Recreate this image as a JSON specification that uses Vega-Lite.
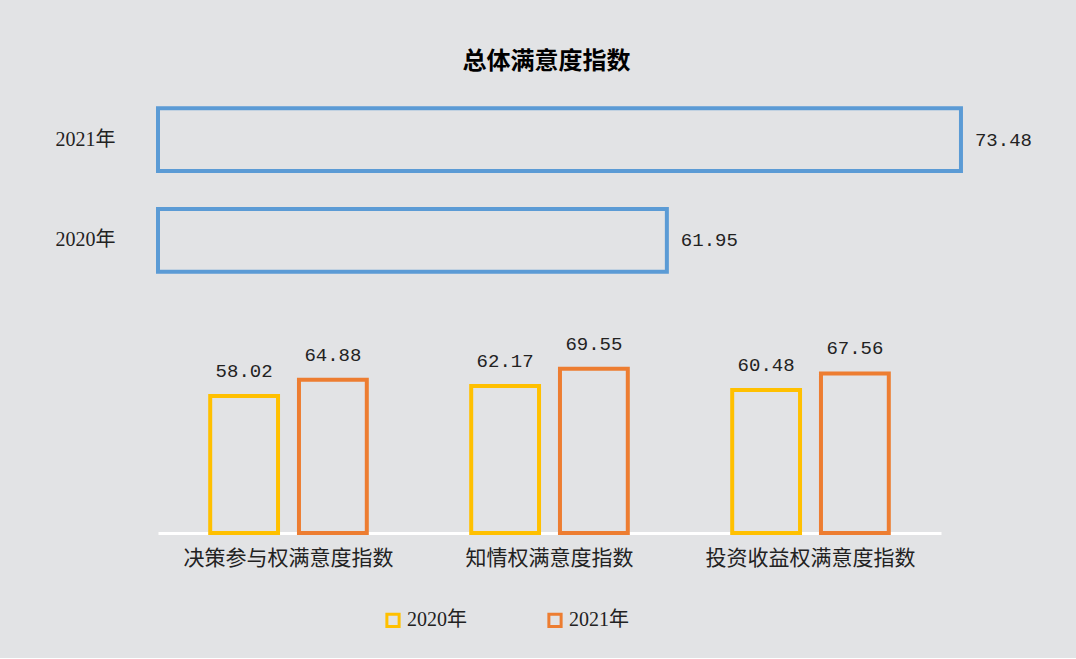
{
  "$schema": "https://vega.github.io/schema/vega-lite/v6.json",
  "background": "#e2e3e5",
  "padding": {"left": 55, "top": 50, "right": 38, "bottom": 25},
  "title": {"text": "总体满意度指数", "fontSize": 24, "font": "Noto Sans CJK SC", "fontWeight": "bold", "color": "#000000", "anchor": "middle", "offset": 16},
  "datasets": {
    "overall": [
      {"年份": "2021年", "指数": 73.48},
      {"年份": "2020年", "指数": 61.95}
    ],
    "sub": [
      {"指标": "决策参与权满意度指数", "年份": "2020年", "指数": 58.02},
      {"指标": "决策参与权满意度指数", "年份": "2021年", "指数": 64.88},
      {"指标": "知情权满意度指数", "年份": "2020年", "指数": 62.17},
      {"指标": "知情权满意度指数", "年份": "2021年", "指数": 69.55},
      {"指标": "投资收益权满意度指数", "年份": "2020年", "指数": 60.48},
      {"指标": "投资收益权满意度指数", "年份": "2021年", "指数": 67.56}
    ]
  },
  "spacing": 44,
  "vconcat": [
    {
      "width": 880,
      "height": 200,
      "data": {"name": "overall"},
      "encoding": {
        "y": {"field": "年份", "type": "nominal", "sort": ["2021年", "2020年"],
              "scale": {"paddingInner": 0.376, "paddingOuter": 0.18},
              "axis": {"title": null, "ticks": false, "domain": false, "labelFontSize": 20, "labelPadding": 43, "labelFont": "Liberation Serif, Noto Sans CJK SC", "labelColor": "#222222"}},
        "x": {"field": "指数", "type": "quantitative", "scale": {"domain": [42, 76.5], "zero": false, "nice": false}, "axis": null}
      },
      "layer": [
        {"mark": {"type": "bar", "fill": "transparent", "stroke": "#5B9BD5", "strokeWidth": 4},
         "encoding": {"x2": {"datum": 42}}},
        {"mark": {"type": "text", "align": "left", "dx": 14, "font": "Liberation Mono", "fontSize": 19, "color": "#222222"},
         "encoding": {"text": {"field": "指数", "type": "quantitative", "format": ".2f"}}}
      ]
    },
    {
      "width": 783,
      "height": 189,
      "data": {"name": "sub"},
      "encoding": {
        "x": {"field": "指标", "type": "nominal", "sort": ["决策参与权满意度指数", "知情权满意度指数", "投资收益权满意度指数"],
              "scale": {"paddingInner": 0.4, "paddingOuter": 0.2},
              "axis": {"title": null, "labelAngle": 0, "labelFontSize": 21, "labelFont": "Noto Sans CJK SC", "labelColor": "#222222", "labelLimit": 0, "domainColor": "#ffffff", "domainWidth": 3, "ticks": false, "labelPadding": 14}},
        "xOffset": {"field": "年份", "type": "nominal", "scale": {"paddingInner": 0.236, "paddingOuter": 0}},
        "y": {"field": "指数", "type": "quantitative", "scale": {"domain": [0, 80], "nice": false}, "axis": null}
      },
      "layer": [
        {"mark": {"type": "bar", "filled": false, "strokeWidth": 4},
         "encoding": {"color": {"field": "年份", "type": "nominal",
           "scale": {"domain": ["2020年", "2021年"], "range": ["#FFC000", "#ED7D31"]},
           "legend": {"orient": "none", "legendX": 225, "legendY": 520, "direction": "horizontal", "title": null, "symbolType": "square", "symbolSize": 150, "symbolStrokeWidth": 3, "labelFontSize": 20, "labelFont": "Liberation Serif, Noto Sans CJK SC", "labelColor": "#222222", "columnPadding": 75, "labelOffset": 4}}}},
        {"mark": {"type": "text", "baseline": "middle", "dy": -25, "font": "Liberation Mono", "fontSize": 19, "color": "#222222"},
         "encoding": {"text": {"field": "指数", "type": "quantitative", "format": ".2f"}}}
      ]
    }
  ],
  "config": {"view": {"stroke": null}}
}
